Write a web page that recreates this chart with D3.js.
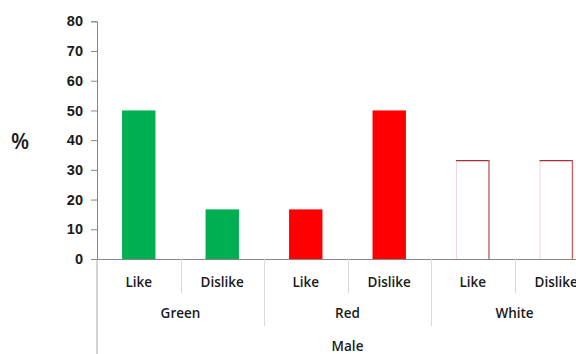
<!DOCTYPE html>
<html>
<head>
<meta charset="utf-8">
<script src="https://cdn.jsdelivr.net/npm/d3@7"></script>
<style>
  html, body { margin: 0; padding: 0; background: #fff; }
  svg { display: block; font-family: "Open Sans", sans-serif; }
</style>
</head>
<body>
<svg id="chart" width="576" height="354"></svg>
<script>
// Preference shares (%) by colour, male respondents
const groups = ["Green", "Red", "White"];
const answers = ["Like", "Dislike"];
const greenValues = [50, 16.7];
const redValues = [16.7, 50];
const whiteValues = [33.3, 33.3];
const yTicks = [0, 10, 20, 30, 40, 50, 60, 70, 80];
const outerLabel = "Male";
const yLabel = "%";

const seriesValues = [greenValues, redValues, whiteValues];
const rows = [];
groups.forEach((g, gi) => {
  answers.forEach((a, ai) => {
    rows.push({ key: g + "|" + a, group: g, answer: a, value: seriesValues[gi][ai] });
  });
});

const svg = d3.select("#chart");
const left = 97, right = 598, baseY = 259, topY = 21.3;

const x = d3.scaleBand()
  .domain(rows.map(d => d.key))
  .range([left, right])
  .paddingInner(0.6)
  .paddingOuter(0.3);
const y = d3.scaleLinear().domain([0, 80]).range([baseY, topY]);

// y axis
const yAxis = d3.axisLeft(y).tickValues(yTicks).tickSize(6).tickPadding(8);
const gy = svg.append("g").attr("transform", `translate(${left},0)`).call(yAxis);
gy.select(".domain").attr("stroke", "#868686");
gy.selectAll(".tick line").attr("stroke", "#868686");
gy.selectAll(".tick text")
  .attr("fill", "#1a1a1a")
  .style("font-size", "14.5px")
  .style("font-weight", 600);

// y axis continues down through the category label rows
svg.append("line")
  .attr("x1", left).attr("x2", left)
  .attr("y1", baseY).attr("y2", 354)
  .attr("stroke", "#a6a6a6");

svg.append("text")
  .attr("x", 20).attr("y", 141)
  .attr("text-anchor", "middle").attr("dominant-baseline", "central")
  .attr("fill", "#1a1a1a")
  .style("font-size", "21px").style("font-weight", 600)
  .text(yLabel);

const step = x.step();
const colourFill = { Green: "#00b050", Red: "#ff0000", White: "#ffffff" };

// bars
const bars = svg.append("g");
rows.forEach(d => {
  const bx = x(d.key), bw = x.bandwidth(), by = y(d.value), bh = baseY - y(d.value);
  if (d.group === "White") {
    bars.append("rect").attr("x", bx).attr("y", by).attr("width", bw).attr("height", bh).attr("fill", "#fff");
    bars.append("line").attr("x1", bx + 0.5).attr("x2", bx + 0.5).attr("y1", by).attr("y2", baseY)
      .attr("stroke", "#f6d4d8").attr("stroke-width", 1);
    bars.append("line").attr("x1", bx).attr("x2", bx + bw).attr("y1", by + 0.5).attr("y2", by + 0.5)
      .attr("stroke", "#a8303c").attr("stroke-width", 1.2);
    bars.append("line").attr("x1", bx + bw - 0.5).attr("x2", bx + bw - 0.5).attr("y1", by).attr("y2", baseY)
      .attr("stroke", "#c06468").attr("stroke-width", 1.4);
  } else {
    bars.append("rect").attr("x", bx).attr("y", by).attr("width", bw).attr("height", bh)
      .attr("fill", colourFill[d.group]);
  }
});

// x baseline
svg.append("line")
  .attr("x1", left).attr("x2", right)
  .attr("y1", baseY + 0.5).attr("y2", baseY + 0.5)
  .attr("stroke", "#868686");

// category separators: inner (answer) and group boundaries
const keys = x.domain();
keys.forEach((k, i) => {
  if (i === 0) return;
  const bx = left + i * step;
  const isGroupEdge = i % answers.length === 0;
  svg.append("line")
    .attr("x1", Math.round(bx) + 0.5).attr("x2", Math.round(bx) + 0.5)
    .attr("y1", baseY).attr("y2", isGroupEdge ? 326 : 293)
    .attr("stroke", "#d9d9d9");
});

// answer labels
svg.append("g").selectAll("text")
  .data(rows).join("text")
  .attr("x", d => x(d.key) + x.bandwidth() / 2)
  .attr("y", 282)
  .attr("text-anchor", "middle").attr("dominant-baseline", "central")
  .attr("fill", "#1a1a1a")
  .style("font-size", "13.5px").style("font-weight", 600)
  .text(d => d.answer);

// group labels
svg.append("g").selectAll("text")
  .data(groups).join("text")
  .attr("x", (g, i) => left + (i + 0.5) * answers.length * step)
  .attr("y", 313)
  .attr("text-anchor", "middle").attr("dominant-baseline", "central")
  .attr("fill", "#1a1a1a")
  .style("font-size", "13.5px").style("font-weight", 600)
  .text(g => g);

// outer label
svg.append("text")
  .attr("x", (left + right) / 2)
  .attr("y", 346)
  .attr("text-anchor", "middle").attr("dominant-baseline", "central")
  .attr("fill", "#1a1a1a")
  .style("font-size", "13.5px").style("font-weight", 600)
  .text(outerLabel);
</script>
</body>
</html>
